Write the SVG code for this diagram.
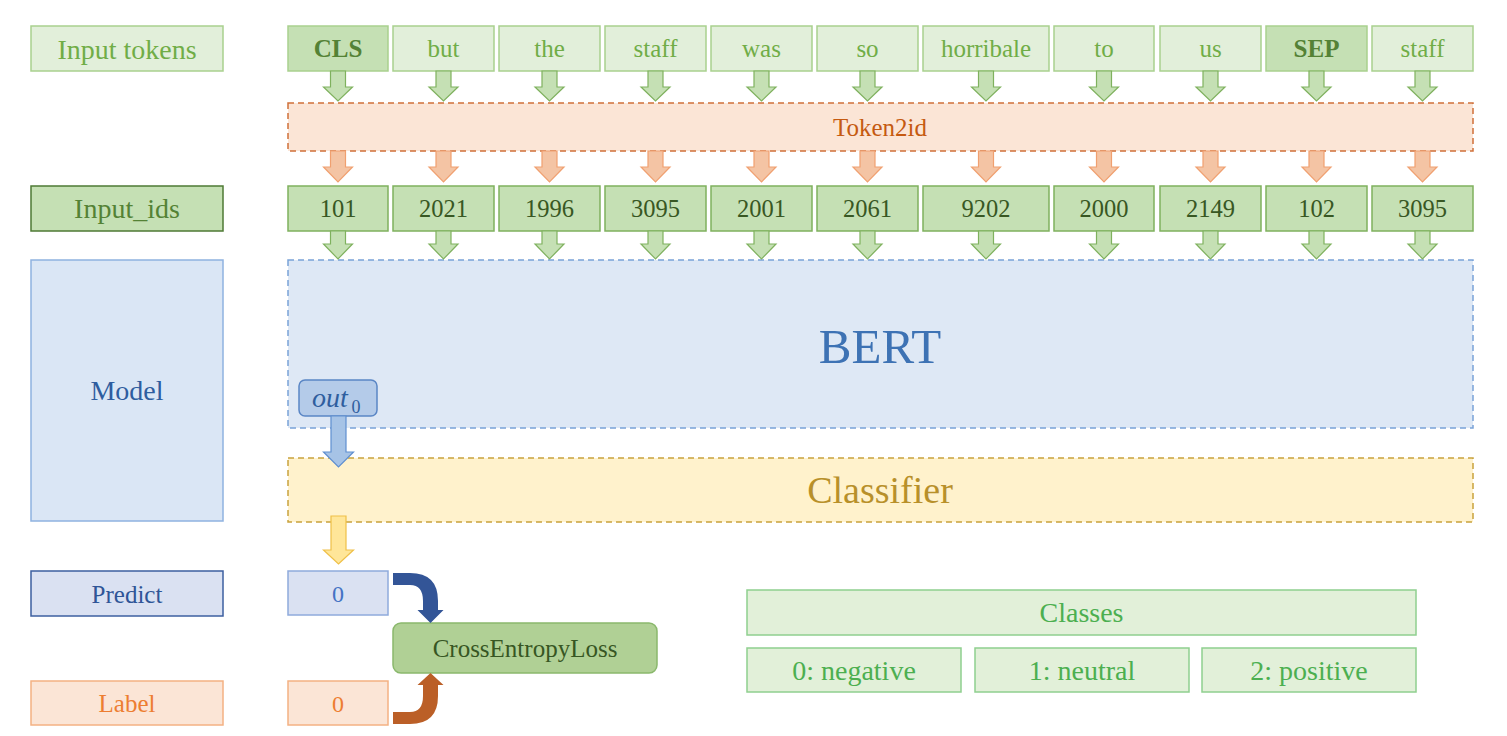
<svg xmlns="http://www.w3.org/2000/svg" xmlns:xlink="http://www.w3.org/1999/xlink" width="1507" height="736" viewBox="0 0 1507 736">
<style>
text{font-family:"Liberation Serif","Times New Roman",serif;text-anchor:middle}
.tok{fill:#e2efda;stroke:#a9d18e;stroke-width:1.5}
.tokb{fill:#c5e0b4;stroke:#a9d18e;stroke-width:1.5}
.tt{font-size:25px;fill:#70ad47}
.ttb{font-size:25px;fill:#548235;font-weight:bold}
.id{fill:#c5e0b4;stroke:#7fb15e;stroke-width:1.5}
.it{font-size:24.5px;fill:#385723}
.ga{fill:#c5e0b4;stroke:#7fb15e;stroke-width:1.2}
.oa{fill:#f4c4a4;stroke:#f0a070;stroke-width:1.2}
.lbl{font-size:28px}
.cls{fill:#e2f0d9;stroke:#8fcf8f;stroke-width:1.5}
.ct{font-size:28px;fill:#4caf50}
</style>
<defs>
<path id="a1" d="M-7.5,0 V16 H-14.5 L0,30 L14.5,16 H7.5 V0 Z"/>
<path id="a2" d="M-7.5,0 V16 H-14.5 L0,31 L14.5,16 H7.5 V0 Z"/>
<path id="a3" d="M-7.5,0 V13 H-14.5 L0,28 L14.5,13 H7.5 V0 Z"/>
</defs>

<g id="label-input-tokens"><rect x="31" y="26" width="192" height="45" fill="#e2efda" stroke="#a9d18e" stroke-width="1.5"/><text x="127" y="59" class="lbl" fill="#70ad47">Input tokens</text></g>
<g id="label-input-ids"><rect x="31" y="186" width="192" height="45" fill="#c5e0b4" stroke="#4e7a35" stroke-width="1.5"/><text x="127" y="218" class="lbl" fill="#548235">Input_ids</text></g>
<g id="label-model"><rect x="31" y="260" width="192" height="261" fill="#dae6f5" stroke="#8fb2e0" stroke-width="1.5"/><text x="127" y="400" font-size="28" fill="#2e5d9f">Model</text></g>
<g id="label-predict"><rect x="31" y="571" width="192" height="45" fill="#dae1f2" stroke="#3c5fa0" stroke-width="1.5"/><text x="127" y="603" font-size="25" fill="#2f5597">Predict</text></g>
<g id="label-label"><rect x="31" y="681" width="192" height="44" fill="#fbe5d6" stroke="#f4b183" stroke-width="1.5"/><text x="127" y="712" font-size="25" fill="#ed7d31">Label</text></g>

<g id="tokens">
<g id="tok-cls"><rect class="tokb" x="288" y="26" width="100" height="45"/><text class="ttb" x="338" y="57">CLS</text></g>
<g id="tok-but"><rect class="tok" x="393" y="26" width="101" height="45"/><text class="tt" x="443.5" y="57">but</text></g>
<g id="tok-the"><rect class="tok" x="499" y="26" width="101" height="45"/><text class="tt" x="549.5" y="57">the</text></g>
<g id="tok-staff"><rect class="tok" x="605" y="26" width="101" height="45"/><text class="tt" x="655.5" y="57">staff</text></g>
<g id="tok-was"><rect class="tok" x="711" y="26" width="101" height="45"/><text class="tt" x="761.5" y="57">was</text></g>
<g id="tok-so"><rect class="tok" x="817" y="26" width="101" height="45"/><text class="tt" x="867.5" y="57">so</text></g>
<g id="tok-horribale"><rect class="tok" x="923" y="26" width="126" height="45"/><text class="tt" x="986" y="57">horribale</text></g>
<g id="tok-to"><rect class="tok" x="1054" y="26" width="100" height="45"/><text class="tt" x="1104" y="57">to</text></g>
<g id="tok-us"><rect class="tok" x="1160" y="26" width="101" height="45"/><text class="tt" x="1210.5" y="57">us</text></g>
<g id="tok-sep"><rect class="tokb" x="1266" y="26" width="101" height="45"/><text class="ttb" x="1316.5" y="57">SEP</text></g>
<g id="tok-staff2"><rect class="tok" x="1372" y="26" width="101" height="45"/><text class="tt" x="1422.5" y="57">staff</text></g>
</g>

<g id="token2id"><rect x="288" y="103" width="1185" height="48" fill="#fbe5d6" stroke="#d0703a" stroke-width="1.5" stroke-dasharray="6,4"/><text x="880" y="136" font-size="25" fill="#c55a11">Token2id</text></g>

<g id="ids">
<g id="id-101"><rect class="id" x="288" y="186" width="100" height="45"/><text class="it" x="338" y="217">101</text></g>
<g id="id-2021"><rect class="id" x="393" y="186" width="101" height="45"/><text class="it" x="443.5" y="217">2021</text></g>
<g id="id-1996"><rect class="id" x="499" y="186" width="101" height="45"/><text class="it" x="549.5" y="217">1996</text></g>
<g id="id-3095"><rect class="id" x="605" y="186" width="101" height="45"/><text class="it" x="655.5" y="217">3095</text></g>
<g id="id-2001"><rect class="id" x="711" y="186" width="101" height="45"/><text class="it" x="761.5" y="217">2001</text></g>
<g id="id-2061"><rect class="id" x="817" y="186" width="101" height="45"/><text class="it" x="867.5" y="217">2061</text></g>
<g id="id-9202"><rect class="id" x="923" y="186" width="126" height="45"/><text class="it" x="986" y="217">9202</text></g>
<g id="id-2000"><rect class="id" x="1054" y="186" width="100" height="45"/><text class="it" x="1104" y="217">2000</text></g>
<g id="id-2149"><rect class="id" x="1160" y="186" width="101" height="45"/><text class="it" x="1210.5" y="217">2149</text></g>
<g id="id-102"><rect class="id" x="1266" y="186" width="101" height="45"/><text class="it" x="1316.5" y="217">102</text></g>
<g id="id-3095b"><rect class="id" x="1372" y="186" width="101" height="45"/><text class="it" x="1422.5" y="217">3095</text></g>
</g>

<g id="bert"><rect x="288" y="260" width="1185" height="168" fill="#dee8f5" stroke="#7aa3d8" stroke-width="1.5" stroke-dasharray="6,4"/><text x="880" y="363" font-size="49" fill="#3d72b4">BERT</text></g>
<g id="out0"><rect x="299" y="380" width="78" height="36" rx="6" fill="#b4cbe9" stroke="#5a86c5" stroke-width="1.5"/><text x="330" y="407" font-size="28" font-style="italic" fill="#2f5e9e">out</text><text x="356" y="413" font-size="18" fill="#2f5e9e">0</text></g>
<g id="classifier"><rect x="288" y="458" width="1185" height="64" fill="#fff2cc" stroke="#c9a23c" stroke-width="1.5" stroke-dasharray="6,4"/><text x="880" y="503" font-size="38" fill="#b8902a">Classifier</text></g>

<g id="pred-val"><rect x="288" y="571" width="100" height="44" fill="#dae1f2" stroke="#8faadc" stroke-width="1.5"/><text x="338" y="602" font-size="24" fill="#4472c4">0</text></g>
<g id="label-val"><rect x="288" y="681" width="100" height="44" fill="#fbe5d6" stroke="#f4b183" stroke-width="1.5"/><text x="338" y="712" font-size="24" fill="#ed7d31">0</text></g>
<g id="loss"><rect x="393" y="623" width="264" height="50" rx="8" fill="#b0d095" stroke="#8ab86c" stroke-width="1.5"/><text x="525" y="657" font-size="25" fill="#375623">CrossEntropyLoss</text></g>

<g id="classes"><rect class="cls" x="747" y="590" width="669" height="45"/><text class="ct" x="1081.5" y="622">Classes</text></g>
<g id="class-0"><rect class="cls" x="747" y="648" width="214" height="44"/><text class="ct" x="854" y="680">0: negative</text></g>
<g id="class-1"><rect class="cls" x="975" y="648" width="214" height="44"/><text class="ct" x="1082" y="680">1: neutral</text></g>
<g id="class-2"><rect class="cls" x="1202" y="648" width="214" height="44"/><text class="ct" x="1309" y="680">2: positive</text></g>

<g id="connectors">
<g class="ga">
<use xlink:href="#a1" transform="translate(338,71)"/><use xlink:href="#a1" transform="translate(443.5,71)"/><use xlink:href="#a1" transform="translate(549.5,71)"/><use xlink:href="#a1" transform="translate(655.5,71)"/><use xlink:href="#a1" transform="translate(761.5,71)"/><use xlink:href="#a1" transform="translate(867.5,71)"/><use xlink:href="#a1" transform="translate(986,71)"/><use xlink:href="#a1" transform="translate(1104,71)"/><use xlink:href="#a1" transform="translate(1210.5,71)"/><use xlink:href="#a1" transform="translate(1316.5,71)"/><use xlink:href="#a1" transform="translate(1422.5,71)"/>
</g>
<g class="oa">
<use xlink:href="#a2" transform="translate(338,151)"/><use xlink:href="#a2" transform="translate(443.5,151)"/><use xlink:href="#a2" transform="translate(549.5,151)"/><use xlink:href="#a2" transform="translate(655.5,151)"/><use xlink:href="#a2" transform="translate(761.5,151)"/><use xlink:href="#a2" transform="translate(867.5,151)"/><use xlink:href="#a2" transform="translate(986,151)"/><use xlink:href="#a2" transform="translate(1104,151)"/><use xlink:href="#a2" transform="translate(1210.5,151)"/><use xlink:href="#a2" transform="translate(1316.5,151)"/><use xlink:href="#a2" transform="translate(1422.5,151)"/>
</g>
<g class="ga">
<use xlink:href="#a3" transform="translate(338,231)"/><use xlink:href="#a3" transform="translate(443.5,231)"/><use xlink:href="#a3" transform="translate(549.5,231)"/><use xlink:href="#a3" transform="translate(655.5,231)"/><use xlink:href="#a3" transform="translate(761.5,231)"/><use xlink:href="#a3" transform="translate(867.5,231)"/><use xlink:href="#a3" transform="translate(986,231)"/><use xlink:href="#a3" transform="translate(1104,231)"/><use xlink:href="#a3" transform="translate(1210.5,231)"/><use xlink:href="#a3" transform="translate(1316.5,231)"/><use xlink:href="#a3" transform="translate(1422.5,231)"/>
</g>
<path d="M331,416 V452 H323.5 L338.5,467 L353.5,452 H346 V416 Z" fill="#a6c3e6" stroke="#5f8fd0" stroke-width="1.2"/>
<path d="M331,516 V550 H323.5 L338.5,564 L353.5,550 H346 V516 Z" fill="#ffe699" stroke="#efc048" stroke-width="1.2"/>
<path d="M393,573 H410 Q438,573 438,601 V610 H443.5 L430.5,623 L417.5,610 H423 V601 Q423,585 410,585 H393 Z" fill="#335597"/>
<path d="M393,724 H410 Q438,724 438,696 V685 H443.5 L430.5,673 L417.5,685 H423 V696 Q423,712 410,712 H393 Z" fill="#bb5f27"/>
</g>
</svg>
